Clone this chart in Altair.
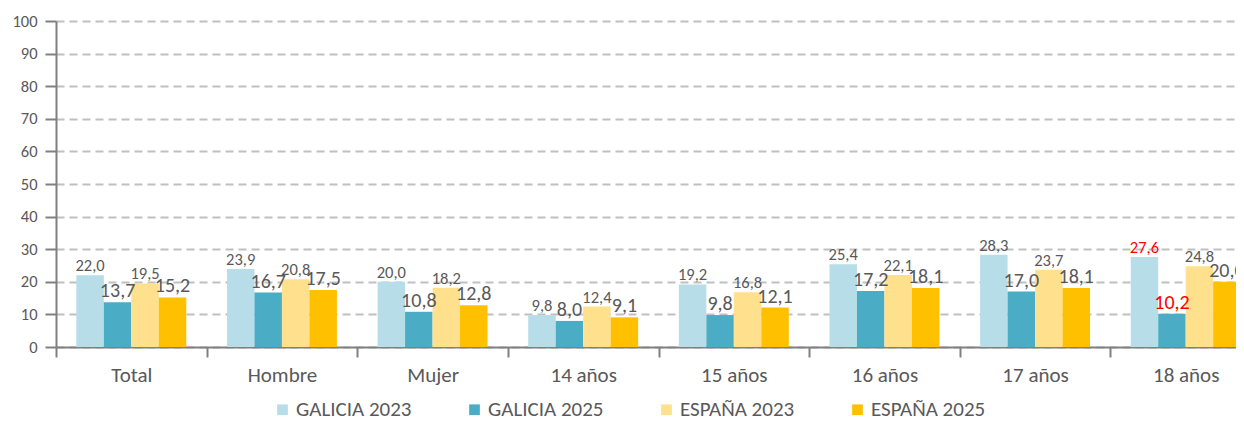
import altair as alt
import pandas as pd

categories = ["Total", "Hombre", "Mujer", "14 años", "15 años", "16 años", "17 años", "18 años"]
series = ["GALICIA 2023", "GALICIA 2025", "ESPAÑA 2023", "ESPAÑA 2025"]
galicia_2023 = [22.0, 23.9, 20.0, 9.8, 19.2, 25.4, 28.3, 27.6]
galicia_2025 = [13.7, 16.7, 10.8, 8.0, 9.8, 17.2, 17.0, 10.2]
espana_2023 = [19.5, 20.8, 18.2, 12.4, 16.8, 22.1, 23.7, 24.8]
espana_2025 = [15.2, 17.5, 12.8, 9.1, 12.1, 18.1, 18.1, 20.0]
y_ticks = [0, 10, 20, 30, 40, 50, 60, 70, 80, 90, 100]
colors = ["#B7DEE8", "#4BACC6", "#FFE08C", "#FFC000"]

rows = []
for s, vals in zip(series, [galicia_2023, galicia_2025, espana_2023, espana_2025]):
    for c, v in zip(categories, vals):
        rows.append({"cat": c, "serie": s, "valor": v, "label": f"{v:.1f}".replace(".", ",")})
df = pd.DataFrame(rows)

FONT = "Carlito, Lato"
TXT = "#595959"

x_axis = alt.Axis(labelAngle=0, labelFontSize=21, labelColor=TXT, labelFont=FONT,
                  tickBand="extent", tickSize=10, tickColor="#808080", tickWidth=2,
                  domainColor="#808080", domainWidth=2, labelPadding=7, grid=False)
y_axis = alt.Axis(values=y_ticks, labelOverlap=False, labelFontSize=16.5, labelColor=TXT,
                  labelFont=FONT, tickSize=11, tickColor="#808080", tickWidth=2,
                  domainColor="#808080", domainWidth=2, labelPadding=8,
                  gridColor="#C0C0C0", gridDash=[8, 5], gridWidth=2)
x_scale = alt.Scale(paddingInner=0, paddingOuter=0, range=[0, 1205])
y_scale = alt.Scale(domain=[0, 100], nice=False)

x = alt.X("cat:N", sort=categories, title=None, scale=x_scale, axis=x_axis)
y = alt.Y("valor:Q", title=None, scale=y_scale, axis=y_axis)
xo = alt.XOffset("serie:N", sort=series,
                 scale=alt.Scale(paddingInner=0, paddingOuter=0.74))

bars = alt.Chart(df).mark_bar().encode(
    x=x, xOffset=xo, y=y,
    color=alt.Color("serie:N", sort=series, scale=alt.Scale(domain=series, range=colors),
                    legend=alt.Legend(title=None, orient="none", direction="horizontal",
                                      legendX=216, legendY=378, symbolType="square",
                                      symbolSize=115, symbolStrokeWidth=0,
                                      labelFontSize=21, labelFont=FONT, labelColor=TXT,
                                      columnPadding=52, labelOffset=3)),
)

is_2025 = "datum.serie == 'GALICIA 2025' || datum.serie == 'ESPAÑA 2025'"
is_red = "datum.cat == '18 años' && (datum.serie == 'GALICIA 2023' || datum.serie == 'GALICIA 2025')"

labels = alt.Chart(df).mark_text(baseline="bottom", dy=-1, font=FONT).encode(
    x=x, xOffset=xo, y=y,
    text="label:N",
    size=alt.condition(is_2025, alt.value(20), alt.value(16.5)),
    color=alt.condition(is_red, alt.value("#FF0000"), alt.value(TXT)),
)

chart = alt.layer(bars, labels).properties(
    width=1180, height=326,
    autosize=alt.AutoSizeParams(type="none"),
    padding={"left": 48, "top": 13, "right": 0, "bottom": 74},
).configure_view(stroke=None).configure_axis(domainCap="butt")

chart.save("out.html", embed_options={"renderer": "svg", "actions": False})
